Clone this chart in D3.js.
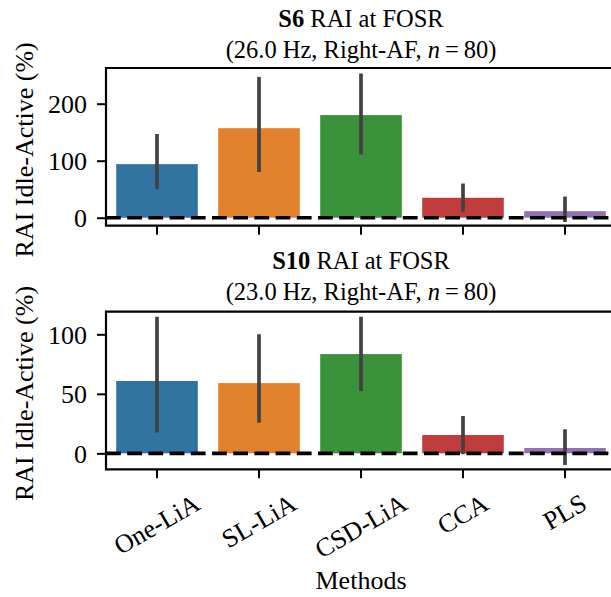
<!DOCTYPE html>
<html><head><meta charset="utf-8">
<script src="https://cdn.jsdelivr.net/npm/d3@7"></script>
</head><body style="margin:0;background:#fff">
<svg id="c" width="611" height="597" style="font-family:'Liberation Serif'"></svg>
<script>
const categories = ["One-LiA","SL-LiA","CSD-LiA","CCA","PLS"];
const colors = ["#3274a1","#e1812c","#3a923a","#c03d3e","#9372b2"];
// panel 1: S6
const s6Mean = [94, 157, 180, 35, 11.5];
const s6Low  = [50, 80, 111, 10.5, -7.5];
const s6High = [147, 247, 253, 60, 37];
const s6Ticks = [0, 100, 200];
// panel 2: S10
const s10Mean = [60.8, 59, 83.4, 15.4, 4.5];
const s10Low  = [17.6, 25.7, 52.4, -0.8, -9.8];
const s10High = [114.8, 100, 114.8, 31.3, 20.2];
const s10Ticks = [0, 50, 100];

const panels = [
  {subj:"S6", freq:"26.0", mean:s6Mean, low:s6Low, high:s6High, ticks:s6Ticks, dom:[-14,262.6], top:68, bottom:225.7, t1:27.3, t2:58.3},
  {subj:"S10", freq:"23.0", mean:s10Mean, low:s10Low, high:s10High, ticks:s10Ticks, dom:[-13.4,119], top:311.7, bottom:469.3, t1:268.5, t2:299.8}
];

const FONT = '"Liberation Serif"';
const svg = d3.select("#c");
const left = 106, right = 616;
const FS_T = 24.5, FS_TICK = 26, FS_LAB = 26, FS_XT = 26;
const x = d3.scaleBand().domain(categories).range([left, right]).paddingInner(0.2).paddingOuter(0.1);
function txt(sel){ return sel.style("font-family", FONT).attr("fill", "#000"); }

panels.forEach((p, pi) => {
  const y = d3.scaleLinear().domain(p.dom).range([p.bottom, p.top]);
  const g = svg.append("g");
  const clipId = "clip" + pi;
  svg.append("clipPath").attr("id", clipId).append("rect")
    .attr("x", left).attr("y", p.top).attr("width", right - left).attr("height", p.bottom - p.top);
  const plot = g.append("g").attr("clip-path", `url(#${clipId})`);
  plot.selectAll("rect.bar").data(categories).join("rect").attr("class","bar")
    .attr("x", d => x(d)).attr("width", x.bandwidth())
    .attr("y", (d,i) => Math.min(y(p.mean[i]), y(0)))
    .attr("height", (d,i) => Math.abs(y(p.mean[i]) - y(0)))
    .attr("fill", (d,i) => colors[i]);
  plot.selectAll("line.err").data(categories).join("line").attr("class","err")
    .attr("x1", d => x(d) + x.bandwidth()/2).attr("x2", d => x(d) + x.bandwidth()/2)
    .attr("y1", (d,i) => y(p.low[i])).attr("y2", (d,i) => y(p.high[i]))
    .attr("stroke", "#424242").attr("stroke-width", 3.7);
  plot.append("line").attr("x1", left).attr("x2", right).attr("y1", y(0)).attr("y2", y(0))
    .attr("stroke", "#000").attr("stroke-width", 3.6).attr("stroke-dasharray", "14.8,6.4");

  // y axis
  const ya = g.append("g").attr("transform", `translate(${left},0)`)
    .call(d3.axisLeft(y).tickValues(p.ticks).tickSize(9).tickPadding(10).tickFormat(d3.format("d")));
  ya.attr("font-family", null).attr("font-size", null);
  ya.select(".domain").remove();
  ya.selectAll(".tick line").attr("stroke", "#000").attr("stroke-width", 2);
  txt(ya.selectAll(".tick text")).attr("font-size", FS_TICK).attr("dy", "0.34em");
  // x axis ticks
  const xa = g.append("g").attr("transform", `translate(0,${p.bottom})`)
    .call(d3.axisBottom(x).tickSize(9).tickFormat(""));
  xa.select(".domain").remove();
  xa.selectAll(".tick line").attr("stroke", "#000").attr("stroke-width", 2);
  // spines
  g.append("path").attr("d", `M${left},${p.top}H${right}M${left},${p.bottom}H${right}M${left},${p.top-1.1}V${p.bottom+1.1}M${right},${p.top}V${p.bottom}`)
    .attr("stroke", "#000").attr("stroke-width", 2.2).attr("fill", "none");

  // titles
  const cx = (left + right) / 2;
  const t1 = txt(g.append("text")).attr("x", cx).attr("y", p.t1).attr("text-anchor", "middle").attr("font-size", FS_T);
  t1.append("tspan").attr("font-weight", "bold").text(p.subj);
  t1.append("tspan").text(" RAI at FOSR");
  const t2 = txt(g.append("text")).attr("x", cx).attr("y", p.t2).attr("text-anchor", "middle").attr("font-size", FS_T);
  t2.append("tspan").text(`(${p.freq} Hz, Right-AF, `);
  t2.append("tspan").attr("font-style", "italic").text("n");
  t2.append("tspan").text("\u2009=\u200980)");

  // y label
  txt(g.append("text")).attr("transform", `translate(33,${(p.top + p.bottom)/2 + 3}) rotate(-90)`)
    .attr("text-anchor", "middle").attr("font-size", FS_LAB).text("RAI Idle-Active (%)");

  if (pi === 1) {
    const labels = g.append("g");
    categories.forEach(c => {
      const tx = x(c) + x.bandwidth()/2;
      const t = txt(labels.append("text")).attr("font-size", FS_XT).attr("text-anchor", "middle").attr("dy", "0.32em").text(c);
      const L = t.node().getComputedTextLength();
      const h = FS_XT * 0.9;
      const bh = L * 0.5 + h * Math.cos(Math.PI/6);
      const cy = 491 + bh / 2;
      t.attr("transform", `translate(${tx},${cy}) rotate(-30)`);
    });
    txt(g.append("text")).attr("x", cx).attr("y", 589).attr("text-anchor", "middle").attr("font-size", FS_LAB).text("Methods");
  }
});
</script>
</body></html>
